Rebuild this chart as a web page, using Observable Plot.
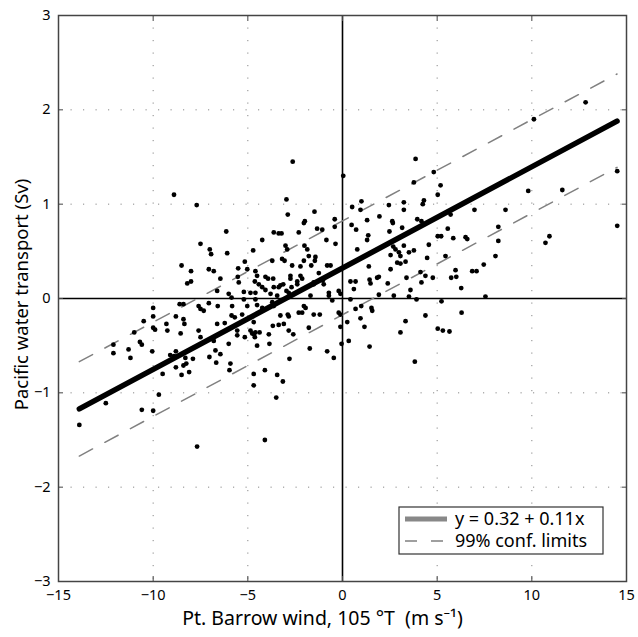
<!DOCTYPE html>
<html><head><meta charset="utf-8">
<script src="https://cdn.jsdelivr.net/npm/d3@7"></script>
<script src="https://cdn.jsdelivr.net/npm/@observablehq/plot@0.6"></script>
<style>body{margin:0;background:#fff} #chart{width:638px;height:637px}</style>
</head><body><div id="chart"></div>
<script>
const xTicks = [-15, -10, -5, 0, 5, 10, 15];
const yTicks = [-3, -2, -1, 0, 1, 2, 3];
const xLabel = "Pt. Barrow wind, 105 °T  (m s⁻¹)";
const yLabel = "Pacific water transport (Sv)";
const legendLabels = ["y = 0.32 + 0.11x", "99% conf. limits"];
// regression line and 99% confidence limits, read at both ends
const fitX = [-13.9, 14.5];
const fitY = [-1.17, 1.88];
const upperY = [-0.67, 2.38];
const lowerY = [-1.67, 1.39];
// observations [wind, transport]
const obsWest = [
[-8.9,1.10],[-7.7,0.99],[-7.5,0.58],[-8.5,0.35],[-8.0,0.29],[-8.2,0.16],[-8.0,0.18],[-8.6,-0.06],[-8.4,-0.06],[-7.6,-0.08],[-7.5,-0.11],[-10.0,-0.10],[-10.0,-0.19],[-10.5,-0.24],[-8.8,-0.19],[-9.3,-0.27],[-8.4,-0.22],[-8.35,-0.27],[-10.0,-0.31],[-9.9,-0.33],[-9.25,-0.34],[-11.0,-0.36],[-8.55,-0.37],[-7.6,-0.34],[-10.7,-0.46],[-10.6,-0.49],[-12.1,-0.49],[-11.3,-0.54],[-10.05,-0.56],[-12.1,-0.58],[-8.8,-0.56],[-9.1,-0.60],[-8.9,-0.61],[-8.3,-0.63],[-7.9,-0.64],[-11.2,-0.63],[-8.4,-0.71],[-8.25,-0.69],[-8.8,-0.73],[-8.1,-0.78],[-8.5,-0.81],[-9.5,-0.80],[-9.7,-1.02],[-12.5,-1.11],[-10.6,-1.18],[-10.0,-1.19],[-13.9,-1.34]
];
const obsMidWest = [
[-6.14,0.71],[-3.63,0.70],[-4.24,0.62],[-7.01,0.52],[-6.94,0.47],[-6.09,0.48],[-4.72,0.51],[-3.71,0.40],[-5.16,0.39],[-7.06,0.31],[-6.80,0.29],[-5.51,0.32],[-5.03,0.31],[-4.60,0.29],[-6.45,0.21],[-5.53,0.23],[-4.51,0.24],[-4.63,0.18],[-4.07,0.23],[-3.93,0.21],[-3.66,0.21],[-5.48,0.17],[-4.42,0.15],[-4.24,0.12],[-6.62,0.08],[-6.01,0.05],[-5.21,0.07],[-4.86,0.06],[-4.60,0.06],[-4.07,0.09],[-3.80,0.05],[-3.63,0.12],[-7.33,-0.13],[-7.06,-0.05],[-5.86,0.01],[-6.59,-0.08],[-5.83,-0.08],[-5.21,-0.01],[-5.03,-0.08],[-4.60,-0.01],[-4.51,-0.07],[-4.24,-0.10],[-3.71,-0.04],[-3.63,-0.08],[-5.86,-0.18],[-5.69,-0.20],[-5.30,-0.17],[-4.69,-0.25],[-6.62,-0.27],[-6.22,-0.26],[-3.68,-0.29],[-5.56,-0.34],[-5.56,-0.39],[-4.86,-0.34],[-4.77,-0.37],[-4.69,-0.38],[-4.60,-0.36],[-4.63,-0.41],[-5.16,-0.41],[-4.38,-0.36],[-3.89,-0.38],[-7.50,-0.41],[-6.01,-0.48],[-6.80,-0.45],[-4.51,-0.50],[-3.86,-0.48],[-6.71,-0.55],
[-6.45,-0.59],[-7.03,-0.62],[-6.67,-0.68],[-5.92,-0.69],[-5.97,-0.76],[-2.80,-0.64],[-4.69,-0.80],[-4.10,-0.76],[-3.45,-0.81],[-3.15,-0.88],[-4.69,-0.92],[-3.50,-1.05],[-4.10,-1.50],[-7.68,-1.57]
];
const obsCentre = [
[-2.63,1.45],[0.04,1.30],[-2.96,1.05],[-2.89,0.89],[-1.48,0.92],[-0.41,0.84],[-0.41,0.76],[-1.99,0.82],[-2.04,0.80],[-3.37,0.69],[-3.22,0.69],[-2.31,0.70],[-1.34,0.74],[-1.07,0.73],[-0.85,0.62],[-0.37,0.58],[-3.01,0.56],[-2.92,0.52],[-2.01,0.56],[-1.86,0.52],[-3.19,0.42],[-3.06,0.40],[-2.66,0.35],[-2.22,0.34],[-2.04,0.40],[-1.78,0.45],[-1.65,0.35],[-1.43,0.44],[-1.46,0.40],[-0.81,0.35],[-0.63,0.35],[-2.75,0.24],[-2.75,0.21],[-2.22,0.24],[-2.13,0.21],[-1.25,0.27],[-1.04,0.19],[-3.28,0.14],[-3.13,0.15],[-3.37,0.12],[-2.39,0.18],[-2.39,0.15],[-2.69,0.12],[-1.52,0.17],[-1.52,0.15],[-0.99,0.15],[-2.96,0.08],[-2.84,0.06],[-3.45,0.03],[-1.69,0.03],[-0.72,0.06],[-0.72,0.03],[-0.20,0.08],[-0.11,0.05],[-0.54,-0.02],[-2.04,-0.08],[-1.95,-0.10],[-3.28,-0.18],[-2.89,-0.17],[-2.84,-0.19],[-2.31,-0.15],[-2.13,-0.15],[-1.52,-0.17],[-1.20,-0.17],[-0.20,-0.15],[-0.11,-0.17],[-3.37,-0.28],[-3.10,-0.27],[-2.84,-0.34],[-2.60,-0.38],[-1.78,-0.31],[-0.11,-0.30],[-1.73,-0.53],[-0.05,-0.48],[-0.81,-0.56],[-0.46,-0.63]
];
const obsEast = [
[3.86,1.48],[3.77,1.23],[1.00,1.03],[0.95,0.94],[0.51,0.97],[2.45,0.99],[3.24,1.02],[3.24,0.94],[4.30,1.04],[4.24,1.00],[1.30,0.83],[1.95,0.87],[2.63,0.82],[2.66,0.80],[3.95,0.84],[4.17,0.82],[0.48,0.78],[0.72,0.73],[2.48,0.71],[3.15,0.75],[1.36,0.67],[1.30,0.62],[4.56,0.57],[0.78,0.52],[2.68,0.55],[2.80,0.52],[3.24,0.56],[2.54,0.46],[2.98,0.49],[3.06,0.45],[3.51,0.49],[3.77,0.51],[4.47,0.43],[2.89,0.38],[3.06,0.37],[3.33,0.39],[1.39,0.34],[2.54,0.31],[4.12,0.28],[4.38,0.24],[4.77,0.22],[0.42,0.18],[0.69,0.18],[0.60,0.10],[1.43,0.20],[1.48,0.16],[1.83,0.22],[1.92,0.23],[2.39,0.16],[3.38,0.22],[4.17,0.17],[3.59,0.09],[1.92,0.04],[2.71,0.03],[3.51,0.02],[3.91,-0.01],[0.42,-0.01],[0.69,-0.11],[0.99,-0.08],[1.53,-0.10],[1.57,-0.13],[0.95,-0.21],[0.25,-0.25],[1.16,-0.30],[3.33,-0.24],[4.38,-0.18],[0.33,-0.45],[1.43,-0.51],[3.06,-0.36],[3.82,-0.67],
[4.82,1.34],[5.18,1.20],[5.03,1.10],[6.97,0.94],[8.61,0.94],[5.71,0.89],[5.56,0.74],[5.03,0.66],[5.21,0.66],[5.85,0.64],[6.50,0.65],[6.59,0.63],[8.23,0.76],[8.23,0.61],[5.44,0.45],[8.08,0.45],[5.97,0.30],[5.74,0.22],[6.01,0.23],[6.85,0.29],[7.08,0.29],[7.46,0.36],[6.27,0.11],[7.55,0.02],[5.23,-0.03],[6.29,-0.15],[5.03,-0.32],[5.30,-0.34],[5.65,-0.35],
[12.84,2.08],[10.11,1.90],[14.51,1.35],[9.81,1.14],[11.61,1.15],[14.51,0.77],[10.93,0.66],[10.72,0.59]
];

const obs = [...obsWest, ...obsMidWest, ...obsCentre, ...obsEast];
const fit = fitX.map((x, i) => ({x, y: fitY[i], up: upperY[i], lo: lowerY[i]}));

const font = "'Noto Sans', 'Open Sans', sans-serif";
const dashed = {stroke: "#808080", strokeWidth: 1.5, strokeDasharray: "15,14"};
const grid = {stroke: "#888", strokeOpacity: 1, strokeWidth: 1, strokeDasharray: "1.2,11.3"};
const fmt = d3.format("d");

const plot = Plot.plot({
  width: 638, height: 637,
  marginLeft: 58, marginRight: 12, marginTop: 15, marginBottom: 56,
  x: {domain: [-15, 15]},
  y: {domain: [-3, 3]},
  style: {fontFamily: font, fontSize: "15px", background: "#fff", color: "#000"},
  marks: [
    Plot.gridX(xTicks, grid),
    Plot.gridY(yTicks, grid),
    Plot.ruleX([0], {stroke: "#000", strokeWidth: 1.6}),
    Plot.ruleY([0], {stroke: "#000", strokeWidth: 1.6}),
    Plot.line(fit, {x: "x", y: "up", ...dashed}),
    Plot.line(fit, {x: "x", y: "lo", ...dashed}),
    Plot.dot(obs, {x: d => d[0], y: d => d[1], r: 2.4, fill: "#000", stroke: "none"}),
    Plot.line(fit, {x: "x", y: "y", stroke: "#000", strokeWidth: 5.5}),
    Plot.frame({stroke: "#444", strokeWidth: 1.5}),
    Plot.axisX(xTicks, {anchor: "bottom", tickSize: 0, tickPadding: 8, label: null, fontSize: 14.5, tickFormat: fmt}),
    Plot.axisX(xTicks, {anchor: "bottom", tickSize: -5, text: null, label: null, stroke: "#444"}),
    Plot.axisX(xTicks, {anchor: "top", tickSize: -5, text: null, label: null, stroke: "#444"}),
    Plot.axisY(yTicks, {anchor: "left", tickSize: 0, tickPadding: 8, label: null, fontSize: 14.5, tickFormat: fmt}),
    Plot.axisY(yTicks, {anchor: "left", tickSize: -5, text: null, label: null, stroke: "#444"}),
    Plot.axisY(yTicks, {anchor: "right", tickSize: -5, text: null, label: null, stroke: "#444"}),
    Plot.text([xLabel], {frameAnchor: "bottom", dx: -20, dy: 43, fontSize: 19.5}),
    Plot.text([yLabel], {frameAnchor: "left", textAnchor: "middle", dx: -36, dy: -4, rotate: -90, fontSize: 18.5})
  ]
});
document.getElementById("chart").appendChild(plot);

// legend box
const svg = d3.select(plot);
const g = svg.append("g").attr("font-family", font).attr("font-size", 18).attr("text-anchor", "start");
g.append("rect").attr("x", 399).attr("y", 507).attr("width", 204).attr("height", 47)
  .attr("fill", "#fff").attr("stroke", "#333").attr("stroke-width", 1.2);
g.append("line").attr("x1", 405).attr("x2", 447).attr("y1", 519).attr("y2", 519)
  .attr("stroke", "#888").attr("stroke-width", 5);
g.append("line").attr("x1", 405).attr("x2", 447).attr("y1", 541).attr("y2", 541)
  .attr("stroke", "#808080").attr("stroke-width", 1.5).attr("stroke-dasharray", "12,14");
legendLabels.forEach((t, i) => {
  g.append("text").attr("x", 455).attr("y", 519 + 22 * i).attr("dy", "0.35em")
    .attr("fill", "#000").attr("text-anchor", "start").text(t);
});
</script>
</body></html>
